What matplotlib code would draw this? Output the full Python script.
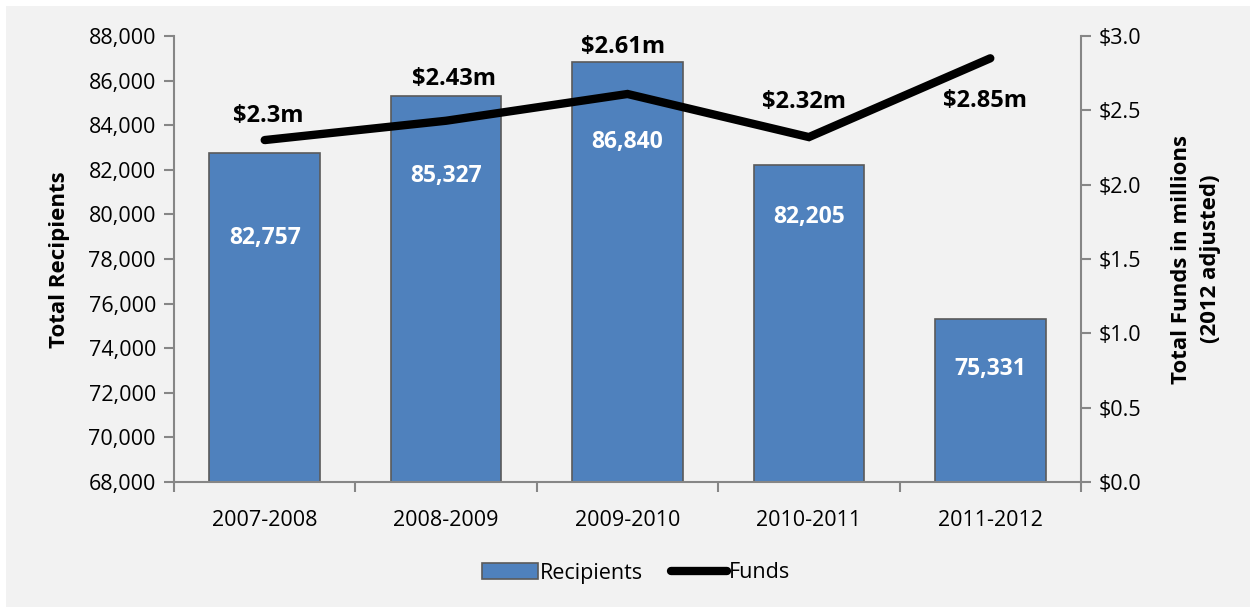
import matplotlib
matplotlib.use("Agg")
import matplotlib.pyplot as plt
from matplotlib.patches import Rectangle
from matplotlib.ticker import FixedLocator, FuncFormatter

plt.rcParams['font.family'] = ['Open Sans', 'DejaVu Sans']

years = ["2007-2008", "2008-2009", "2009-2010", "2010-2011", "2011-2012"]
recipients = [82757, 85327, 86840, 82205, 75331]
funds = [2.30, 2.43, 2.61, 2.32, 2.85]
fund_labels = ["$2.3m", "$2.43m", "$2.61m", "$2.32m", "$2.85m"]

# label placement (pixels)
bar_label_drop = [-85, -80, -80, -52, -50]
fund_label_dx = [4, 8, -4, -5, -5]
fund_label_dy = [24, 42, 47, 35, -43]

BG = "#f2f2f2"
AXC = "#868686"
FS = 15.5

fig = plt.figure(figsize=(12.5, 6.07), dpi=100)
fig.patch.set_facecolor("white")
fig.patches.append(Rectangle((6 / 1250, 0), 1, 1 - 6 / 607, transform=fig.transFigure,
                             facecolor=BG, edgecolor="none", zorder=-10))

ax = fig.add_axes([174 / 1250, 1 - 482 / 607, (1081 - 174) / 1250, (482 - 36) / 607])
ax.patch.set_alpha(0)
x = list(range(len(years)))
bars = ax.bar(x, recipients, width=0.61, color="#4f81bd", edgecolor="#5a5a5a",
              linewidth=1.2, label="Recipients", zorder=2)
ax.set_xlim(-0.5, len(years) - 0.5)
ax.set_ylim(68000, 88000)
ax.yaxis.set_major_locator(FixedLocator(range(68000, 88001, 2000)))
ax.yaxis.set_major_formatter(FuncFormatter(lambda v, p: f"{int(v):,}"))
ax.set_xticks(x)
ax.set_xticklabels(years)
ax.xaxis.set_minor_locator(FixedLocator([i - 0.5 for i in range(len(years) + 1)]))
ax.tick_params(axis="x", which="major", length=0, pad=20, labelsize=FS)
ax.tick_params(axis="x", which="minor", length=7, color=AXC, width=1.5, direction="out")
ax.tick_params(axis="y", length=7, color=AXC, width=1.5, labelsize=FS, pad=6)
for s in ["top", "right"]:
    ax.spines[s].set_visible(False)
for s in ["left", "bottom"]:
    ax.spines[s].set_color(AXC)
    ax.spines[s].set_linewidth(1.5)

for xi, v, d in zip(x, recipients, bar_label_drop):
    ax.annotate(f"{v:,}", (xi, v), xytext=(0, d), textcoords="offset pixels",
                ha="center", va="center", color="white", fontsize=16.5,
                fontweight="bold", zorder=5)

ax2 = ax.twinx()
ax2.set_ylim(0, 3.0)
ax2.yaxis.set_major_locator(FixedLocator([0, 0.5, 1.0, 1.5, 2.0, 2.5, 3.0]))
ax2.yaxis.set_major_formatter(FuncFormatter(lambda v, p: f"${v:.1f}"))
ax2.tick_params(axis="y", length=7, color=AXC, width=1.5, labelsize=FS, pad=6)
for s in ["top", "left", "bottom"]:
    ax2.spines[s].set_visible(False)
ax2.spines["right"].set_color(AXC)
ax2.spines["right"].set_linewidth(1.5)
line, = ax2.plot(x, funds, color="black", linewidth=6, solid_capstyle="round",
                 solid_joinstyle="miter", label="Funds", zorder=3)

for xi, v, lab, dx, dy in zip(x, funds, fund_labels, fund_label_dx, fund_label_dy):
    ax2.annotate(lab, (xi, v), xytext=(dx, dy), textcoords="offset pixels",
                 ha="center", va="center", color="black", fontsize=17,
                 fontweight="bold")

# axis titles
fig.text(60 / 1250, 1 - 260 / 607, "Total Recipients", rotation=90, ha="center",
         va="center", fontsize=16, fontweight="bold")
fig.text(1196 / 1250, 1 - 259 / 607, "Total Funds in millions\n(2012 adjusted)",
         rotation=90, ha="center", va="center", fontsize=16, fontweight="bold",
         multialignment="center", linespacing=1.45)

fig.legend([bars, line], ["Recipients", "Funds"], loc="center",
           bbox_to_anchor=(636 / 1250, 1 - 573 / 607), ncol=2, frameon=False,
           fontsize=FS, handlelength=2.6, handletextpad=0.1, columnspacing=1.3)

fig.savefig("out.png", dpi=100, facecolor=fig.get_facecolor())
